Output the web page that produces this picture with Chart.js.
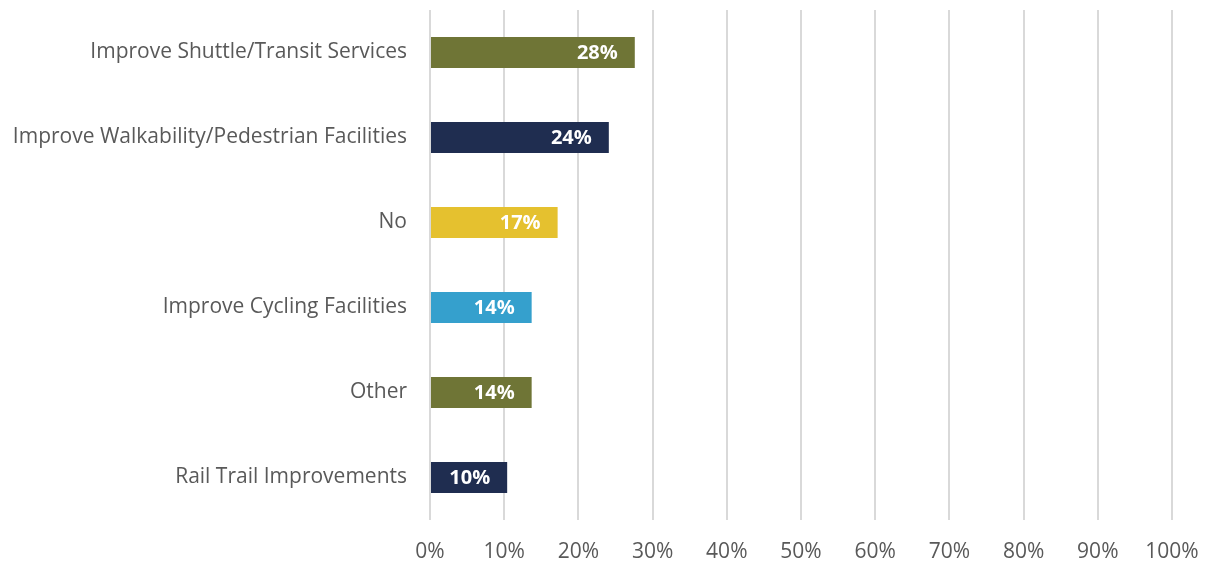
<!DOCTYPE html>
<html>
<head>
<meta charset="utf-8">
<script src="https://cdn.jsdelivr.net/npm/chart.js@4"></script>
<style>
  html, body { margin: 0; padding: 0; background: #fff; }
  #wrap { width: 1208px; height: 562px; }
</style>
</head>
<body>
<div id="wrap"><canvas id="chart"></canvas></div>
<script>
const categories = [
    "Improve Shuttle/Transit Services",
    "Improve Walkability/Pedestrian Facilities",
    "No",
    "Improve Cycling Facilities",
    "Other",
    "Rail Trail Improvements",
];
const shares = [27.6, 24.1, 17.2, 13.7, 13.7, 10.4];
const shareLabels = ["28%", "24%", "17%", "14%", "14%", "10%"];
const barColors = ["#6f7536", "#1f2d50", "#e5c12f", "#35a0cd", "#6f7536", "#1f2d50"];

// white bold value labels drawn inside the bar end
const insideEndLabels = {
    id: "insideEndLabels",
    afterDatasetsDraw(chart) {
        const ctx = chart.ctx;
        const meta = chart.getDatasetMeta(0);
        ctx.save();
        ctx.fillStyle = "#ffffff";
        ctx.font = "bold 20px 'Open Sans', sans-serif";
        ctx.textAlign = "right";
        ctx.textBaseline = "middle";
        meta.data.forEach((bar, i) => {
            ctx.fillText(shareLabels[i], bar.x - 17, bar.y + 1);
        });
        ctx.restore();
    },
};

new Chart(document.getElementById("chart"), {
    type: "bar",
    data: {
        labels: categories,
        datasets: [{
            data: shares,
            backgroundColor: barColors,
            barPercentage: 0.365,
            categoryPercentage: 1,
        }],
    },
    options: {
        indexAxis: "y",
        responsive: true,
        maintainAspectRatio: false,
        animation: false,
        layout: { padding: { top: 10, right: 36, bottom: 0, left: 0 } },
        plugins: {
            legend: { display: false },
            tooltip: { enabled: false },
        },
        scales: {
            x: {
                min: 0,
                max: 100,
                ticks: {
                    stepSize: 10,
                    padding: 19,
                    color: "#595959",
                    font: { family: "'Open Sans', sans-serif", size: 21 },
                    callback: (v) => v + "%",
                },
                grid: { color: "#d9d9d9", lineWidth: 2, drawTicks: false },
                border: { display: false },
                afterFit: (scale) => {
                    scale.height = 42;
                    scale.paddingLeft = 0;
                    scale.paddingRight = 0;
                },
            },
            y: {
                ticks: {
                    padding: 15,
                    color: "#595959",
                    font: { family: "'Open Sans', sans-serif", size: 21 },
                },
                grid: { display: false },
                border: { display: false },
                afterFit: (scale) => {
                    scale.width = 430;
                    scale.paddingTop = 0;
                    scale.paddingBottom = 0;
                },
            },
        },
    },
    plugins: [insideEndLabels],
});
</script>
</body>
</html>
